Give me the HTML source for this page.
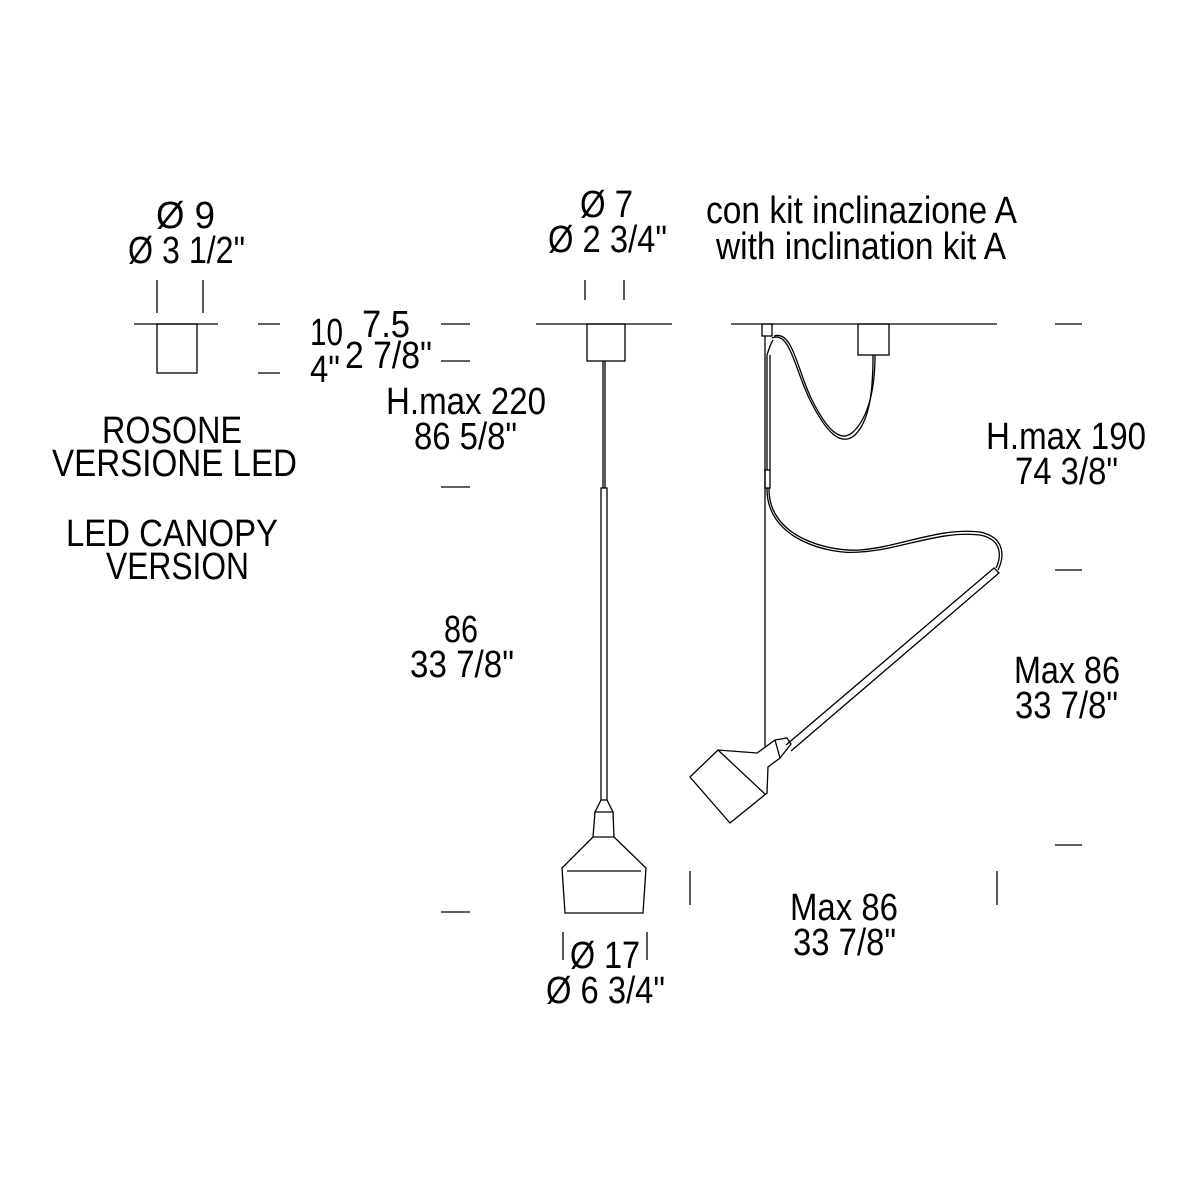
<!DOCTYPE html>
<html><head><meta charset="utf-8"><style>html,body{margin:0;padding:0;background:#fff}svg{display:block}</style></head>
<body>
<svg width="1200" height="1200" viewBox="0 0 1200 1200" xmlns="http://www.w3.org/2000/svg">
<g stroke="#000" stroke-width="1.3" fill="none">
<line x1="134" y1="324" x2="218" y2="324"/>
<rect x="157" y="324" width="40" height="49"/>
<line x1="157" y1="280" x2="157" y2="313"/><line x1="203" y1="280" x2="203" y2="313"/>
<line x1="258" y1="324" x2="280" y2="324"/><line x1="258" y1="373" x2="280" y2="373"/>
<line x1="441" y1="324" x2="470" y2="324"/><line x1="441" y1="361" x2="470" y2="361"/>
<line x1="441" y1="487" x2="470" y2="487"/><line x1="441" y1="912" x2="470" y2="912"/>
<line x1="536" y1="324" x2="672" y2="324"/>
<line x1="585" y1="280" x2="585" y2="300"/><line x1="624" y1="280" x2="624" y2="300"/>
<rect x="587" y="324" width="38" height="37"/>
<line x1="603" y1="361" x2="603" y2="488"/><line x1="605" y1="361" x2="605" y2="488"/>
<rect x="601" y="488" width="6" height="312"/>
<path d="M601 800 L595 812 L613 812 L607 800 M595 812 L593 837 L614 837 L613 812 M593 837 L562 868 L565 913 L643 913 L646 868 L614 837"/>
<line x1="567" y1="871" x2="641" y2="871"/>
<line x1="563" y1="932" x2="563" y2="960"/><line x1="647" y1="932" x2="647" y2="960"/>
<line x1="731" y1="324" x2="997" y2="324"/>
<rect x="858" y="324" width="31" height="31"/>
<rect x="762" y="324" width="10" height="12"/>
<line x1="765" y1="336" x2="765" y2="747"/>
<path d="M767 355 L767 470 M770 355 L770 470 M767 355 Q770 345 773 340"/>
<rect x="765" y="470" width="5" height="18"/>
<path d="M772 338 C790 330 795 370 810 400 C825 430 840 448 855 435 C870 420 873 390 873 355"/>
<path d="M774 336 C793 330 797 370 812 400 C826 428 840 444 853 432 C868 418 875 390 875 355"/>
<path d="M767 488 C766 540 830 555 860 552 C900 550 940 530 980 535 C1005 540 1000 560 996 568"/>
<path d="M769 488 C768 538 830 552 860 550 C900 547 940 527 980 532 C1008 538 1003 560 998 570"/>
<path d="M786 745 L994 568 L999 573 L791 751"/>
<path d="M690 777 L718 750 L757 753 L775 740 L787 738 L791 744 L780 758 L768 767 L767 793 L730 823 Z"/>
<line x1="718" y1="750" x2="765" y2="794"/>
<line x1="775" y1="740" x2="780" y2="758"/>
<line x1="1055" y1="324" x2="1082" y2="324"/><line x1="1055" y1="570" x2="1082" y2="570"/><line x1="1055" y1="845" x2="1082" y2="845"/>
<line x1="690" y1="871" x2="690" y2="905"/><line x1="997" y1="871" x2="997" y2="905"/>
</g>
<g font-family="Liberation Sans, sans-serif" font-size="38" fill="#000">
<text x="156" y="228" textLength="59" lengthAdjust="spacingAndGlyphs">Ø 9</text>
<text x="128" y="263" textLength="117" lengthAdjust="spacingAndGlyphs">Ø 3 1/2"</text>
<text x="310" y="345" textLength="33" lengthAdjust="spacingAndGlyphs">10</text>
<text x="362" y="337" textLength="48" lengthAdjust="spacingAndGlyphs">7.5</text>
<text x="310" y="382" textLength="30" lengthAdjust="spacingAndGlyphs">4"</text>
<text x="345" y="368" textLength="87" lengthAdjust="spacingAndGlyphs">2 7/8"</text>
<text x="386" y="414" textLength="160" lengthAdjust="spacingAndGlyphs">H.max 220</text>
<text x="414" y="449" textLength="103" lengthAdjust="spacingAndGlyphs">86 5/8"</text>
<text x="102" y="443" textLength="140" lengthAdjust="spacingAndGlyphs">ROSONE</text>
<text x="52" y="476" textLength="245" lengthAdjust="spacingAndGlyphs">VERSIONE LED</text>
<text x="66" y="546" textLength="212" lengthAdjust="spacingAndGlyphs">LED CANOPY</text>
<text x="106" y="579" textLength="143" lengthAdjust="spacingAndGlyphs">VERSION</text>
<text x="580" y="217" textLength="53" lengthAdjust="spacingAndGlyphs">Ø 7</text>
<text x="548" y="252" textLength="119" lengthAdjust="spacingAndGlyphs">Ø 2 3/4"</text>
<text x="706" y="223" textLength="311" lengthAdjust="spacingAndGlyphs">con kit inclinazione A</text>
<text x="716" y="259" textLength="290" lengthAdjust="spacingAndGlyphs">with inclination kit A</text>
<text x="986" y="449" textLength="160" lengthAdjust="spacingAndGlyphs">H.max 190</text>
<text x="1015" y="484" textLength="103" lengthAdjust="spacingAndGlyphs">74 3/8"</text>
<text x="444" y="642" textLength="34" lengthAdjust="spacingAndGlyphs">86</text>
<text x="410" y="677" textLength="104" lengthAdjust="spacingAndGlyphs">33 7/8"</text>
<text x="1014" y="683" textLength="106" lengthAdjust="spacingAndGlyphs">Max 86</text>
<text x="1015" y="718" textLength="103" lengthAdjust="spacingAndGlyphs">33 7/8"</text>
<text x="790" y="920" textLength="108" lengthAdjust="spacingAndGlyphs">Max 86</text>
<text x="793" y="955" textLength="103" lengthAdjust="spacingAndGlyphs">33 7/8"</text>
<text x="570" y="968" textLength="70" lengthAdjust="spacingAndGlyphs">Ø 17</text>
<text x="546" y="1003" textLength="119" lengthAdjust="spacingAndGlyphs">Ø 6 3/4"</text>
</g>
</svg>
</body></html>
